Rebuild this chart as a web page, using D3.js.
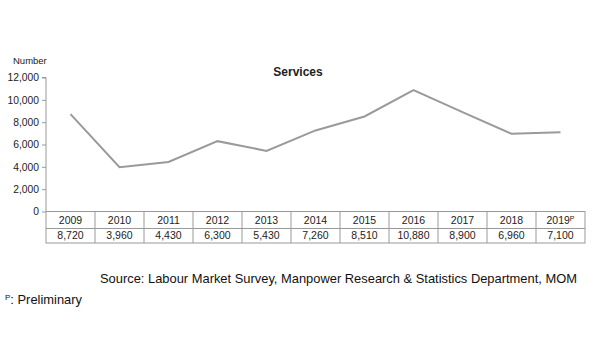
<!DOCTYPE html>
<html><head><meta charset="utf-8">
<script src="https://cdn.jsdelivr.net/npm/d3@7"></script>
<style>body{margin:0;background:#fff}svg{display:block}text{font-family:"Liberation Sans",Arial,sans-serif}</style>
</head><body><svg id="c" width="600" height="360"></svg>
<script>
const years = ["2009","2010","2011","2012","2013","2014","2015","2016","2017","2018","2019"];
const values = [8720,3960,4430,6300,5430,7260,8510,10880,8900,6960,7100];
const yTicks = [0,2000,4000,6000,8000,10000,12000];
const title = "Services";
const yLabel = "Number";
const source = "Source: Labour Market Survey, Manpower Research & Statistics Department, MOM";
const note = ": Preliminary";

const svg = d3.select("#c");
const pL = 46, pR = 585, pT = 77.5, pB = 211.5;
const x = d3.scaleBand().domain(years).range([pL, pR]).padding(0);
const y = d3.scaleLinear().domain([0, 12000]).range([pB, pT]);
const fmt = d3.format(",");

// y axis
const ya = svg.append("g").attr("transform", `translate(${pL},0)`)
  .call(d3.axisLeft(y).tickValues(yTicks).tickFormat(fmt).tickSize(4).tickPadding(3));
ya.select(".domain").attr("stroke", "#999").attr("d", `M-4,${pT}H0V${pB}`);
ya.selectAll(".tick line").attr("stroke", "#999");
ya.selectAll("text").attr("fill", "#222").style("font-size", "10.3px");

// line
const line = d3.line().x((d, i) => x(years[i]) + x.bandwidth() / 2).y(d => y(d));
svg.append("path").datum(values).attr("d", line).attr("fill", "none")
  .attr("stroke", "#9a9a9a").attr("stroke-width", 2);

// table
const r0 = 211.5, r1 = 228.5, r2 = 243;
const tg = svg.append("g");
tg.append("rect").attr("x", pL).attr("y", r0).attr("width", pR - pL).attr("height", r2 - r0)
  .attr("fill", "none").attr("stroke", "#999");
tg.append("line").attr("x1", pL).attr("x2", pR).attr("y1", r1).attr("y2", r1).attr("stroke", "#999");
years.forEach((yr, i) => {
  if (i > 0) tg.append("line").attr("x1", x(yr)).attr("x2", x(yr)).attr("y1", r0).attr("y2", r2).attr("stroke", "#999");
  const t = tg.append("text").attr("x", x(yr) + x.bandwidth() / 2).attr("y", (r0 + r1) / 2 + 3.7)
    .attr("text-anchor", "middle").style("font-size", "10.5px").attr("fill", "#222").text(yr);
  if (i === years.length - 1) t.append("tspan").attr("dy", -3).style("font-size", "7px").text("P");
  tg.append("text").attr("x", x(yr) + x.bandwidth() / 2).attr("y", (r1 + r2) / 2 + 3.7)
    .attr("text-anchor", "middle").style("font-size", "10.5px").attr("fill", "#222").text(fmt(values[i]));
});

// titles
svg.append("text").attr("x", 298).attr("y", 76).attr("text-anchor", "middle")
  .style("font-size", "12px").style("font-weight", "bold").attr("fill", "#222").text(title);
svg.append("text").attr("x", 13).attr("y", 64).style("font-size", "9.5px").attr("fill", "#222").text(yLabel);
svg.append("text").attr("x", 100).attr("y", 283).style("font-size", "12.9px").attr("fill", "#111").text(source);
const n = svg.append("text").attr("x", 5).attr("y", 304).style("font-size", "12.9px").attr("fill", "#111");
n.append("tspan").style("font-size", "8px").attr("dy", -4).text("P");
n.append("tspan").attr("dy", 4).text(note);
</script></body></html>
